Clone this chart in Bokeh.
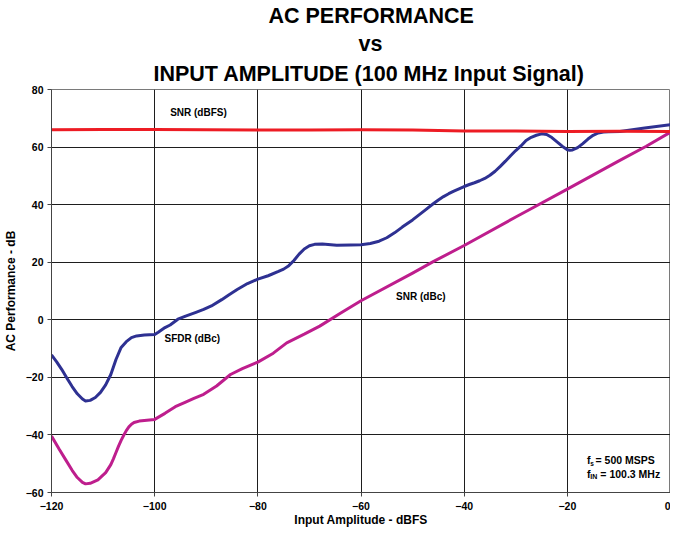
from bokeh.plotting import figure
from bokeh.models import Title, Range1d, FixedTicker
from bokeh.core.properties import value
from bokeh.embed import file_html
from bokeh.resources import INLINE

FONT = "Liberation Sans"

# ---- data ----
x_ticks = [-120, -100, -80, -60, -40, -20, 0]
y_ticks = [-60, -40, -20, 0, 20, 40, 60, 80]

sfdr_x = [-120, -119, -118, -117, -116, -115, -114, -113.4, -112.5, -111.5, -110.5,
          -109.5, -108.5, -107.5, -106.5, -105.5, -104.5, -103.5, -102, -100, -99.3,
          -98, -97, -95.5, -94, -92, -90.5, -89, -87, -85.5, -84, -82, -80, -78,
          -76, -75, -74, -73, -72, -71, -70, -69, -67.5, -64.7, -62, -60, -58.2, -56.5,
          -55, -53.5, -52, -50, -48.5, -47.5, -46, -45, -44, -43, -42, -41, -40, -39,
          -38, -37, -36, -35, -34, -33, -32, -31, -30, -29, -28, -27, -26, -25, -24,
          -23, -22, -21, -20, -19.5, -19, -18, -17, -16, -15, -14, -13, -12, -9.8,
          -5, 0]
sfdr_y = [-12.2, -14.6, -17.3, -20.3, -23.2, -25.7, -27.5, -28.2, -28.0, -27.0, -25.2,
          -22.6, -19.0, -13.8, -9.6, -7.6, -6.2, -5.6, -5.3, -5.1, -4.3,
          -2.7, -1.8, 0.2, 1.3, 2.6, 3.6, 4.8, 7.0, 8.8, 10.5, 12.6, 14.1, 15.3,
          16.8, 17.6, 18.8, 20.6, 22.8, 24.6, 25.7, 26.2, 26.3, 25.9, 26.0, 26.1, 26.5, 27.3,
          28.5, 30.2, 32.2, 34.7, 36.8, 38.2, 40.3, 41.6, 42.8, 43.8, 44.7, 45.5, 46.3, 47.0,
          47.6, 48.3, 49.1, 50.2, 51.6, 53.3, 55.1, 57.0, 58.8, 60.4, 62.3, 63.4, 64.1, 64.6, 64.4,
          63.3, 61.8, 60.3, 59.1, 58.9, 59.0, 59.8, 61.2, 62.8, 64.1, 64.9, 65.2, 65.3, 65.4,
          66.6, 67.8]

snr_dbc_x = [-120, -118.5, -117.3, -116, -115, -114, -113.4, -112.5, -111, -109.5, -108.5,
             -108, -107.5, -107, -106.5, -106, -105.5, -105, -104.5, -104, -103, -101.5, -100,
             -98, -96, -94, -92.5, -90.5, -88, -85.3, -83, -80, -77, -74.4, -71, -68, -64, -60,
             -50, -46, -40, -30, -27.3, -20, -10, -4.7, 0]
snr_dbc_y = [-40.4, -45.0, -48.5, -52.3, -54.8, -56.5, -57.0, -56.8, -55.6, -53.1, -50.3,
             -48.3, -46.1, -43.9, -41.9, -40.1, -38.5, -37.2, -36.3, -35.7, -35.2, -34.9, -34.6,
             -32.5, -30.2, -28.6, -27.4, -25.9, -23.0, -19.0, -17.0, -14.7, -11.6, -8.0, -5.0, -2.2,
             2.3, 6.6, 16.2, 20.2, 25.8, 35.7, 38.3, 45.4, 55.2, 60.3, 65.2]

snr_dbfs_x = [-120, -110, -100, -90, -80, -70, -60, -50, -40, -30, -20, -10, 0]
snr_dbfs_y = [66.0, 66.1, 66.1, 66.0, 65.9, 65.9, 66.0, 65.9, 65.6, 65.6, 65.4, 65.5, 65.4]

title_lines = ["AC PERFORMANCE", "vs", "INPUT AMPLITUDE (100 MHz Input Signal)"]
x_label = "Input Amplitude - dBFS"
y_label = "AC Performance - dB"

p = figure(frame_width=619, frame_height=403,
           x_range=Range1d(-120, 0), y_range=Range1d(-60, 80),
           output_backend="svg", toolbar_location=None,
           min_border_left=0, min_border_right=0, min_border_top=0, min_border_bottom=0)
p.title_location = None
p.background_fill_color = "white"
p.border_fill_color = "white"
p.outline_line_color = "#7a7a7a"
p.outline_line_width = 1

# (left offset in px from frame edge, standoff) per title line, bottom line first
title_style = [(102, 7), (307, 2), (217, 2)]
for txt, (off, so) in zip(reversed(title_lines), title_style):
    p.add_layout(Title(text=txt, align="left", text_font=FONT, text_font_size="21.5px",
                       text_font_style="bold", text_color="black", standoff=so, offset=off), "above")

p.xaxis.ticker = FixedTicker(ticks=x_ticks)
p.yaxis.ticker = FixedTicker(ticks=y_ticks)
p.xaxis.axis_label = x_label
p.yaxis.axis_label = y_label
for ax in (p.xaxis[0], p.yaxis[0]):
    ax.axis_label_text_font = FONT
    ax.axis_label_text_font_size = "12px"
    ax.axis_label_text_font_style = "bold"
    ax.axis_label_text_color = "black"
    ax.major_label_text_font = FONT
    ax.major_label_text_font_size = "10.5px"
    ax.major_label_text_font_style = "bold"
    ax.major_label_text_color = "black"
    ax.axis_line_color = "#444444"
    ax.major_tick_line_color = "#444444"
    ax.major_tick_out = 4
    ax.major_tick_in = 0
    ax.minor_tick_line_color = None
p.xaxis.major_label_standoff = 5
p.xaxis.axis_label_standoff = 0
p.yaxis.major_label_standoff = 4
p.yaxis.axis_label_standoff = 5

p.xgrid.ticker = FixedTicker(ticks=[t for t in x_ticks if t < 0])
p.ygrid.ticker = FixedTicker(ticks=[t for t in y_ticks if t < 80])
for g in (p.xgrid[0], p.ygrid[0]):
    g.grid_line_color = "#1e1e1e"
    g.grid_line_width = 1

p.line(sfdr_x, sfdr_y, line_width=3, line_color="#2E3192", line_join="round")
p.line(snr_dbc_x, snr_dbc_y, line_width=3, line_color="#BE1E8D", line_join="round")
p.line(snr_dbfs_x, snr_dbfs_y, line_width=3, line_color="#ED1C24", line_join="round")

lbl = dict(text_font=value(FONT), text_font_style="bold", text_color="black",
           text_baseline="middle", text_align="left")
p.text(x=[-97.0, -98.1, -53.2], y=[71.9, -6.5, 8.2],
       text=["SNR (dBFS)", "SFDR (dBc)", "SNR (dBc)"], text_font_size="10px", **lbl)

# sampling annotations with subscripts
p.text(x=[-16.2, -16.2], y=[-48.8, -53.5], text=["f", "f"], text_font_size="10.5px", **lbl)
p.text(x=[-16.2], y=[-48.8], text=["s"], text_font_size="6.5px", x_offset=3.4, y_offset=3, **lbl)
p.text(x=[-16.2], y=[-53.5], text=["IN"], text_font_size="7px", x_offset=3.4, y_offset=3, **lbl)
p.text(x=[-16.2], y=[-48.8], text=["= 500 MSPS"], text_font_size="10.5px", x_offset=8.6, **lbl)
p.text(x=[-16.2], y=[-53.5], text=["= 100.3 MHz"], text_font_size="10.5px", x_offset=13.4, **lbl)

open("out.html", "w").write(file_html(p, INLINE))
